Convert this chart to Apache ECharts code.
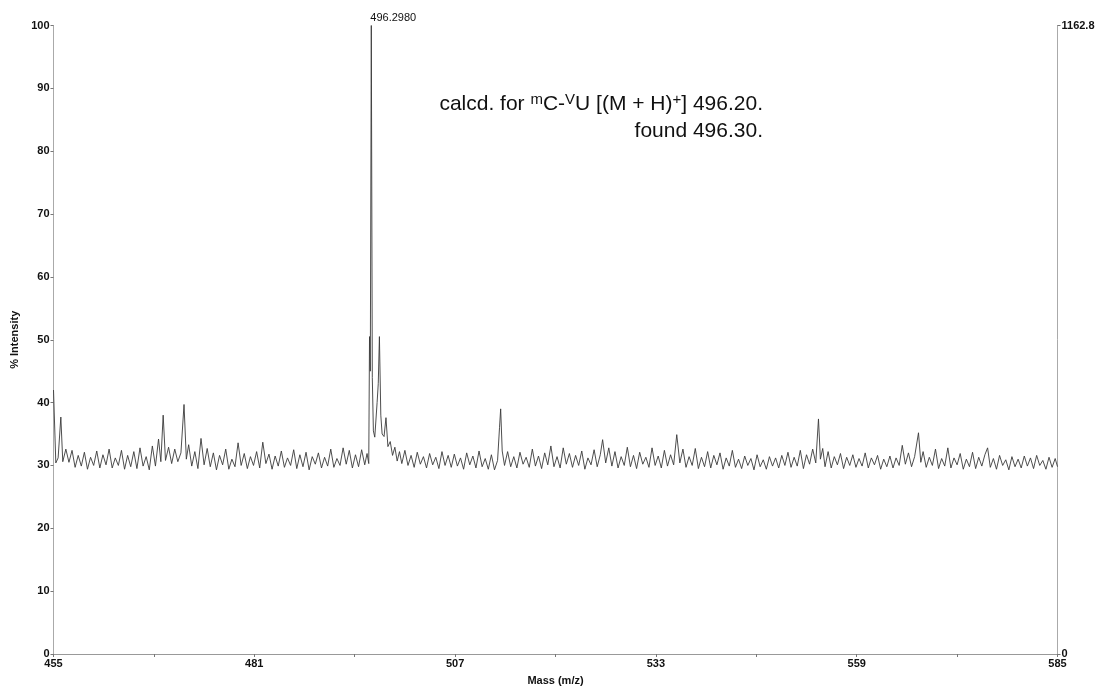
<!DOCTYPE html>
<html>
<head>
<meta charset="utf-8">
<title>Mass spectrum</title>
<script src="https://cdn.jsdelivr.net/npm/echarts@6/dist/echarts.min.js"></script>
<style>
  html, body { margin: 0; padding: 0; background: #fff; }
  #chart { width: 1101px; height: 687px; }
</style>
</head>
<body>
<div id="chart"></div>
<script>
// x axis: m/z, y axis: % intensity
const massMin = 455
const massMax = 585
const massStep = 13
const labelStep = 26
const intensityTicks = [0, 10, 20, 30, 40, 50, 60, 70, 80, 90, 100]
const absoluteMax = 1162.8
const peakLabel = '496.2980'
const noteLines = ['calcd. for ', 'found 496.30.']

// [m/z, % intensity]
const spectrum = [
  [455.0, 42.0], [455.3, 30.4], [455.6, 31.2], [455.95, 37.7], [456.2, 30.6], [456.6, 32.6], [457.0, 30.5], [457.4, 32.4], [457.8, 29.7], [458.2, 31.6], [458.6, 29.9], [459.0, 32.1], [459.4, 29.4], [459.8, 31.3],
  [460.2, 30.0], [460.6, 32.3], [461.0, 29.6], [461.4, 31.7], [461.8, 30.1], [462.2, 32.6], [462.6, 29.6], [463.0, 31.2], [463.4, 30.0], [463.8, 32.4], [464.2, 29.4], [464.6, 31.6],
  [465.0, 29.8], [465.4, 32.2], [465.8, 29.5], [466.2, 32.8], [466.6, 29.9], [467.0, 31.4], [467.4, 29.3], [467.8, 33.1], [468.2, 29.9], [468.6, 34.2], [468.9, 30.6], [469.2, 38.0], [469.5, 30.8], [469.9, 32.9],
  [470.3, 30.3], [470.7, 32.6], [471.1, 30.6], [471.5, 32.0], [471.9, 39.7], [472.2, 31.0], [472.5, 33.3], [472.9, 29.9], [473.3, 32.2], [473.7, 29.5], [474.1, 34.3], [474.5, 30.1], [474.9, 32.7],
  [475.3, 29.8], [475.7, 32.0], [476.1, 29.3], [476.5, 31.6], [476.9, 30.1], [477.3, 32.6], [477.7, 29.4], [478.1, 31.0], [478.5, 29.8], [478.9, 33.6], [479.3, 30.0], [479.7, 31.9],
  [480.1, 29.5], [480.5, 31.4], [480.9, 30.0], [481.3, 32.2], [481.7, 29.6], [482.1, 33.7], [482.5, 30.3], [482.9, 31.8], [483.3, 29.4], [483.7, 31.5], [484.1, 29.9], [484.5, 32.3], [484.9, 29.7],
  [485.3, 31.2], [485.7, 30.0], [486.1, 32.5], [486.5, 29.5], [486.9, 31.7], [487.3, 29.8], [487.7, 32.1], [488.1, 29.3], [488.5, 31.4], [488.9, 30.2], [489.3, 32.0], [489.7, 29.6],
  [490.1, 31.3], [490.5, 29.9], [490.9, 32.6], [491.3, 29.7], [491.7, 31.1], [492.1, 30.0], [492.5, 32.8], [492.9, 30.2], [493.3, 32.4], [493.7, 29.6], [494.1, 31.7], [494.5, 29.8], [494.9, 32.5],
  [495.3, 30.1], [495.6, 31.9], [495.82, 30.3], [495.92, 50.5], [496.02, 45.0], [496.15, 100], [496.28, 44.0], [496.42, 35.5], [496.6, 34.5], [496.9, 40.0], [497.05, 43.0], [497.2, 50.5], [497.38, 38.0], [497.55, 35.0], [497.8, 34.6], [498.05, 37.6], [498.3, 33.0], [498.6, 33.8], [498.9, 31.6],
  [499.2, 32.9], [499.5, 30.7], [499.8, 32.2], [500.1, 30.3], [500.5, 32.4], [500.9, 30.0], [501.3, 31.6], [501.7, 29.7], [502.1, 32.1], [502.5, 30.2], [502.9, 31.4],
  [503.3, 29.6], [503.7, 31.9], [504.1, 30.1], [504.5, 31.3], [504.9, 29.5], [505.3, 32.2], [505.7, 30.0], [506.1, 31.6], [506.5, 29.7], [506.9, 31.8],
  [507.3, 29.9], [507.7, 31.2], [508.1, 29.4], [508.5, 32.0], [508.9, 30.1], [509.3, 31.5], [509.7, 29.6], [510.1, 32.3], [510.5, 29.8], [510.9, 31.1],
  [511.3, 29.4], [511.7, 31.7], [512.1, 29.3], [512.5, 30.8], [512.75, 36.0], [512.9, 39.0], [513.1, 32.3], [513.4, 30.0], [513.8, 32.2], [514.2, 29.8], [514.6, 31.4], [515.0, 29.6],
  [515.4, 32.1], [515.8, 30.2], [516.2, 31.3], [516.6, 29.7], [517.0, 32.6], [517.4, 29.9], [517.8, 31.5], [518.2, 29.5], [518.6, 32.0], [519.0, 30.1], [519.4, 33.1], [519.8, 29.8],
  [520.2, 31.4], [520.6, 29.6], [521.0, 32.8], [521.4, 30.2], [521.8, 31.9], [522.2, 29.7], [522.6, 31.6], [523.0, 30.0], [523.4, 32.3], [523.8, 29.4], [524.2, 31.2], [524.6, 30.1],
  [525.0, 32.5], [525.4, 29.8], [525.8, 31.7], [526.1, 34.1], [526.5, 30.4], [526.9, 32.8], [527.3, 29.9], [527.7, 32.2], [528.1, 29.6], [528.5, 31.4], [528.9, 30.0], [529.3, 32.9],
  [529.7, 29.8], [530.1, 31.6], [530.5, 29.5], [530.9, 32.1], [531.3, 30.2], [531.7, 31.3], [532.1, 29.7], [532.5, 32.8], [532.9, 30.0], [533.3, 31.5], [533.7, 29.6], [534.1, 32.4],
  [534.5, 29.9], [534.9, 31.7], [535.3, 30.1], [535.7, 34.9], [536.1, 30.4], [536.5, 32.6], [536.9, 29.7], [537.3, 31.4], [537.7, 30.0], [538.1, 32.7], [538.5, 29.5], [538.9, 31.3],
  [539.3, 29.8], [539.7, 32.2], [540.1, 29.6], [540.5, 31.6], [540.9, 30.1], [541.3, 32.0], [541.7, 29.4], [542.1, 31.2], [542.5, 29.9], [542.9, 32.4], [543.3, 29.7], [543.7, 31.0],
  [544.1, 29.5], [544.5, 31.5], [544.9, 30.0], [545.3, 31.1], [545.7, 29.3], [546.1, 31.7], [546.5, 29.8], [546.9, 30.9], [547.3, 29.4], [547.7, 31.4], [548.1, 29.9], [548.5, 31.2],
  [548.9, 29.6], [549.3, 31.6], [549.7, 30.0], [550.1, 32.1], [550.5, 29.7], [550.9, 31.3], [551.3, 29.9], [551.7, 32.4], [552.1, 29.5], [552.5, 31.7], [552.9, 30.2], [553.3, 32.6],
  [553.7, 30.4], [554.05, 37.4], [554.3, 31.0], [554.6, 32.7], [554.9, 29.8], [555.3, 32.2], [555.7, 29.6], [556.1, 31.4], [556.5, 30.1], [556.9, 31.9], [557.3, 29.5], [557.7, 31.3],
  [558.1, 30.0], [558.5, 31.7], [558.9, 29.7], [559.3, 31.1], [559.7, 29.9], [560.1, 32.0], [560.5, 29.6], [560.9, 31.2], [561.3, 30.1], [561.7, 31.6], [562.1, 29.4], [562.5, 31.0],
  [562.9, 29.8], [563.3, 31.5], [563.7, 29.6], [564.1, 31.2], [564.5, 30.0], [564.9, 33.2], [565.3, 30.2], [565.7, 32.0], [566.1, 29.8], [566.5, 31.4], [567.0, 35.2], [567.3, 30.5],
  [567.6, 32.2], [568.0, 29.7], [568.4, 31.3], [568.8, 30.0], [569.2, 32.6], [569.6, 29.5], [570.0, 31.1], [570.4, 29.9], [570.8, 32.8], [571.2, 29.6], [571.6, 31.2], [572.0, 30.1],
  [572.4, 31.9], [572.8, 29.4], [573.2, 31.0], [573.6, 29.8], [574.0, 32.1], [574.4, 29.5], [574.8, 31.3], [575.2, 29.9], [575.6, 31.7], [575.95, 32.8], [576.3, 29.7], [576.7, 31.1],
  [577.1, 29.4], [577.5, 31.6], [577.9, 30.0], [578.3, 30.9], [578.7, 29.3], [579.1, 31.4], [579.5, 29.8], [579.9, 31.0], [580.3, 29.6], [580.7, 31.5], [581.1, 29.9], [581.5, 31.2],
  [581.9, 29.5], [582.3, 31.6], [582.7, 30.0], [583.1, 30.8], [583.5, 29.4], [583.9, 31.3], [584.3, 29.7], [584.7, 31.1], [585.0, 29.8]
]

const font = 'Liberation Sans'
const chart = echarts.init(document.getElementById('chart'))

chart.setOption({
  animation: false,
  backgroundColor: '#fff',
  grid: {
    left: 53.5,
    right: 43.5,
    top: 25.5,
    bottom: 33,
    outerBoundsMode: 'none'
  },
  xAxis: {
    type: 'value',
    min: massMin,
    max: massMax,
    interval: massStep,
    name: 'Mass (m/z)',
    nameLocation: 'middle',
    nameGap: 21,
    nameTextStyle: { fontFamily: font, fontSize: 11, fontWeight: 'bold', color: '#111' },
    axisLine: { lineStyle: { color: '#999', width: 1 } },
    axisTick: { length: 3, lineStyle: { color: '#777' } },
    axisLabel: {
      margin: 4,
      fontFamily: font,
      fontSize: 11,
      fontWeight: 'bold',
      color: '#111',
      formatter: function(v) {
        return Math.round(v - massMin) % labelStep === 0 ? String(v) : ''
      }
    },
    splitLine: { show: false }
  },
  yAxis: [
    {
      type: 'value',
      min: intensityTicks[0],
      max: intensityTicks[intensityTicks.length - 1],
      interval: intensityTicks[1] - intensityTicks[0],
      name: '% Intensity',
      nameLocation: 'middle',
      nameGap: 31,
      nameTextStyle: { fontFamily: font, fontSize: 11, fontWeight: 'bold', color: '#111' },
      axisLine: { show: true, lineStyle: { color: '#aaa', width: 1 } },
      axisTick: { show: true, length: 3, lineStyle: { color: '#777' } },
      axisLabel: { margin: 4, fontFamily: font, fontSize: 11, fontWeight: 'bold', color: '#111' },
      splitLine: { show: false }
    },
    {
      type: 'value',
      position: 'right',
      min: 0,
      max: absoluteMax,
      interval: absoluteMax,
      axisLine: { show: true, lineStyle: { color: '#aaa', width: 1 } },
      axisTick: { show: true, length: 3, lineStyle: { color: '#777' } },
      axisLabel: {
        margin: 4,
        fontFamily: font,
        fontSize: 11,
        fontWeight: 'bold',
        color: '#111',
        formatter: function(v) {
          return String(v)
        }
      },
      splitLine: { show: false }
    }
  ],
  series: [
    {
      type: 'line',
      data: spectrum,
      symbol: 'none',
      lineStyle: { color: '#3a3a3a', width: 0.9 },
      markPoint: {
        symbol: 'circle',
        symbolSize: 1,
        itemStyle: { color: 'rgba(0,0,0,0)' },
        data: [{ type: 'max' }],
        label: {
          show: true,
          position: 'top',
          align: 'left',
          distance: 2,
          offset: [-1, 0],
          formatter: peakLabel,
          fontFamily: font,
          fontSize: 11,
          color: '#111'
        }
      }
    }
  ],
  graphic: [
    {
      type: 'text',
      right: 1101 - 763,
      top: 92,
      style: {
        text: '{n|' + noteLines[0] + '}{s|m}{n|C-}{s|V}{n|U [(M + H)}{s|+}{n|] 496.20.}',
        fill: '#111',
        rich: {
          n: { fontFamily: font, fontSize: 21, color: '#111' },
          s: { fontFamily: font, fontSize: 15, color: '#111', padding: [0, 0, 9, 0] }
        }
      }
    },
    {
      type: 'text',
      right: 1101 - 763,
      top: 121,
      style: {
        text: noteLines[1],
        fontFamily: font,
        fontSize: 21,
        fill: '#111'
      }
    }
  ]
})
</script>
</body>
</html>
